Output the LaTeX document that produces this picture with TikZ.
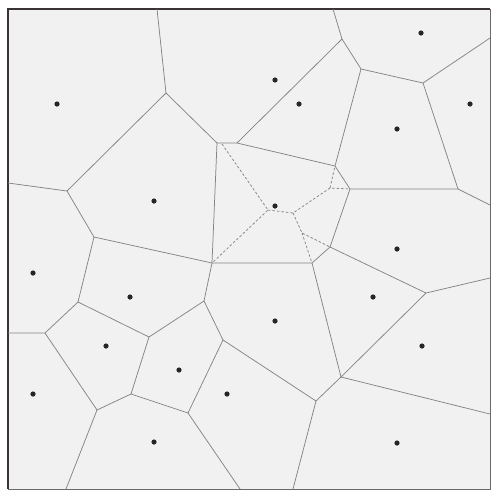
\documentclass[tikz,border=0pt]{standalone}
\usepackage{tikz}
\usetikzlibrary{calc}
\definecolor{edgeGray}{HTML}{858585}
\definecolor{cellFill}{HTML}{F1F1F1}
\definecolor{frameDark}{HTML}{3A3236}

\begin{document}
\begin{tikzpicture}[x=1pt, y=-1pt,
  site/.style={circle, fill=black!85, inner sep=0pt, minimum size=5.2pt},
  vedge/.style={edgeGray, line width=0.75pt},
  oldedge/.style={edgeGray, line width=0.75pt, dash pattern=on 2.5pt off 2pt}]
  \useasboundingbox (0,0) rectangle (494,491);

  % frame
  \coordinate (tl) at (8,9);
  \coordinate (tr) at (490,9);
  \coordinate (br) at (490,489);
  \coordinate (bl) at (8,489);
  \fill[cellFill] (tl) rectangle (br);
  \draw[edgeGray!80!black, line width=1pt] (tr) -- (br) -- (bl);
  \draw[frameDark, line width=1.8pt] (bl) -- (tl) -- (tr);

  % Voronoi vertices
  \coordinate (A) at (166,93);
  \coordinate (B) at (217,143);
  \coordinate (C) at (67,191);
  \coordinate (D) at (94,237);
  \coordinate (E) at (237,143);
  \coordinate (F) at (342,39);
  \coordinate (G) at (361,69);
  \coordinate (H) at (423,83);
  \coordinate (I) at (335,166);
  \coordinate (J) at (458,189);
  \coordinate (K) at (350,189);
  \coordinate (L) at (212,263);
  \coordinate (M) at (312,263);
  \coordinate (N) at (330,247);
  \coordinate (R) at (204,301);
  \coordinate (S) at (78,302);
  \coordinate (T) at (45,333);
  \coordinate (U) at (149,337);
  \coordinate (V) at (223,340);
  \coordinate (W) at (131,394);
  \coordinate (X) at (97,410);
  \coordinate (Y) at (188,413);
  \coordinate (Z) at (426,293);
  \coordinate (AA) at (341,377);
  \coordinate (AB) at (316,401);

  % ends on the frame
  \coordinate (t1) at (157,9);
  \coordinate (t2) at (333,9);
  \coordinate (r1) at (490,38);
  \coordinate (r2) at (490,205);
  \coordinate (r3) at (490,278);
  \coordinate (r4) at (490,414);
  \coordinate (b1) at (66,489);
  \coordinate (b2) at (240,489);
  \coordinate (b3) at (293,489);
  \coordinate (l1) at (8,183);
  \coordinate (l2) at (8,333);

  % cell edges
  \draw[vedge] (t1) -- (A) -- (B) -- (E) -- (F) -- (t2);
  \draw[vedge] (A) -- (C) -- (l1);
  \draw[vedge] (C) -- (D) -- (L) -- (M) -- (N) -- (K) -- (J) -- (r2);
  \draw[vedge] (F) -- (G) -- (H) -- (r1);
  \draw[vedge] (H) -- (J);
  \draw[vedge] (G) -- (I) -- (K);
  \draw[vedge] (E) -- (I);
  \draw[vedge] (B) -- (L) -- (R) -- (V) -- (AB) -- (b3);
  \draw[vedge] (N) -- (Z) -- (r3);
  \draw[vedge] (M) -- (AA) -- (Z);
  \draw[vedge] (AA) -- (AB);
  \draw[vedge] (AA) -- (r4);
  \draw[vedge] (D) -- (S) -- (T) -- (l2);
  \draw[vedge] (S) -- (U) -- (R);
  \draw[vedge] (U) -- (W) -- (Y) -- (V);
  \draw[vedge] (T) -- (X) -- (W);
  \draw[vedge] (X) -- (b1);
  \draw[vedge] (Y) -- (b2);

  % old edges inside the new cell
  \coordinate (P) at (268,210);
  \coordinate (Q) at (293,213);
  \coordinate (Q2) at (330,188);
  \coordinate (R2) at (302,233);
  \coordinate (Bd) at (222,144);
  \draw[oldedge] (Bd) -- (P) -- (L);
  \draw[oldedge] (P) -- (Q) -- (Q2) -- (K);
  \draw[oldedge] (Q2) -- (I);
  \draw[oldedge] (Q) -- (R2) -- (N);
  \draw[oldedge] (R2) -- (M);

  % sites
  \node[site] (s1) at (57,104) {};
  \node[site] (s2) at (154,201) {};
  \node[site] (s3) at (275,80) {};
  \node[site] (s4) at (299,104) {};
  \node[site] (s5) at (421,33) {};
  \node[site] (s6) at (470,104) {};
  \node[site] (s7) at (397,129) {};
  \node[site] (s8) at (275,206) {};
  \node[site] (s9) at (397,249) {};
  \node[site] (s10) at (33,273) {};
  \node[site] (s11) at (130,297) {};
  \node[site] (s12) at (373,297) {};
  \node[site] (s13) at (275,321) {};
  \node[site] (s14) at (106,346) {};
  \node[site] (s15) at (179,370) {};
  \node[site] (s16) at (422,346) {};
  \node[site] (s17) at (33,394) {};
  \node[site] (s18) at (227,394) {};
  \node[site] (s19) at (154,442) {};
  \node[site] (s20) at (397,443) {};
\end{tikzpicture}
\end{document}
